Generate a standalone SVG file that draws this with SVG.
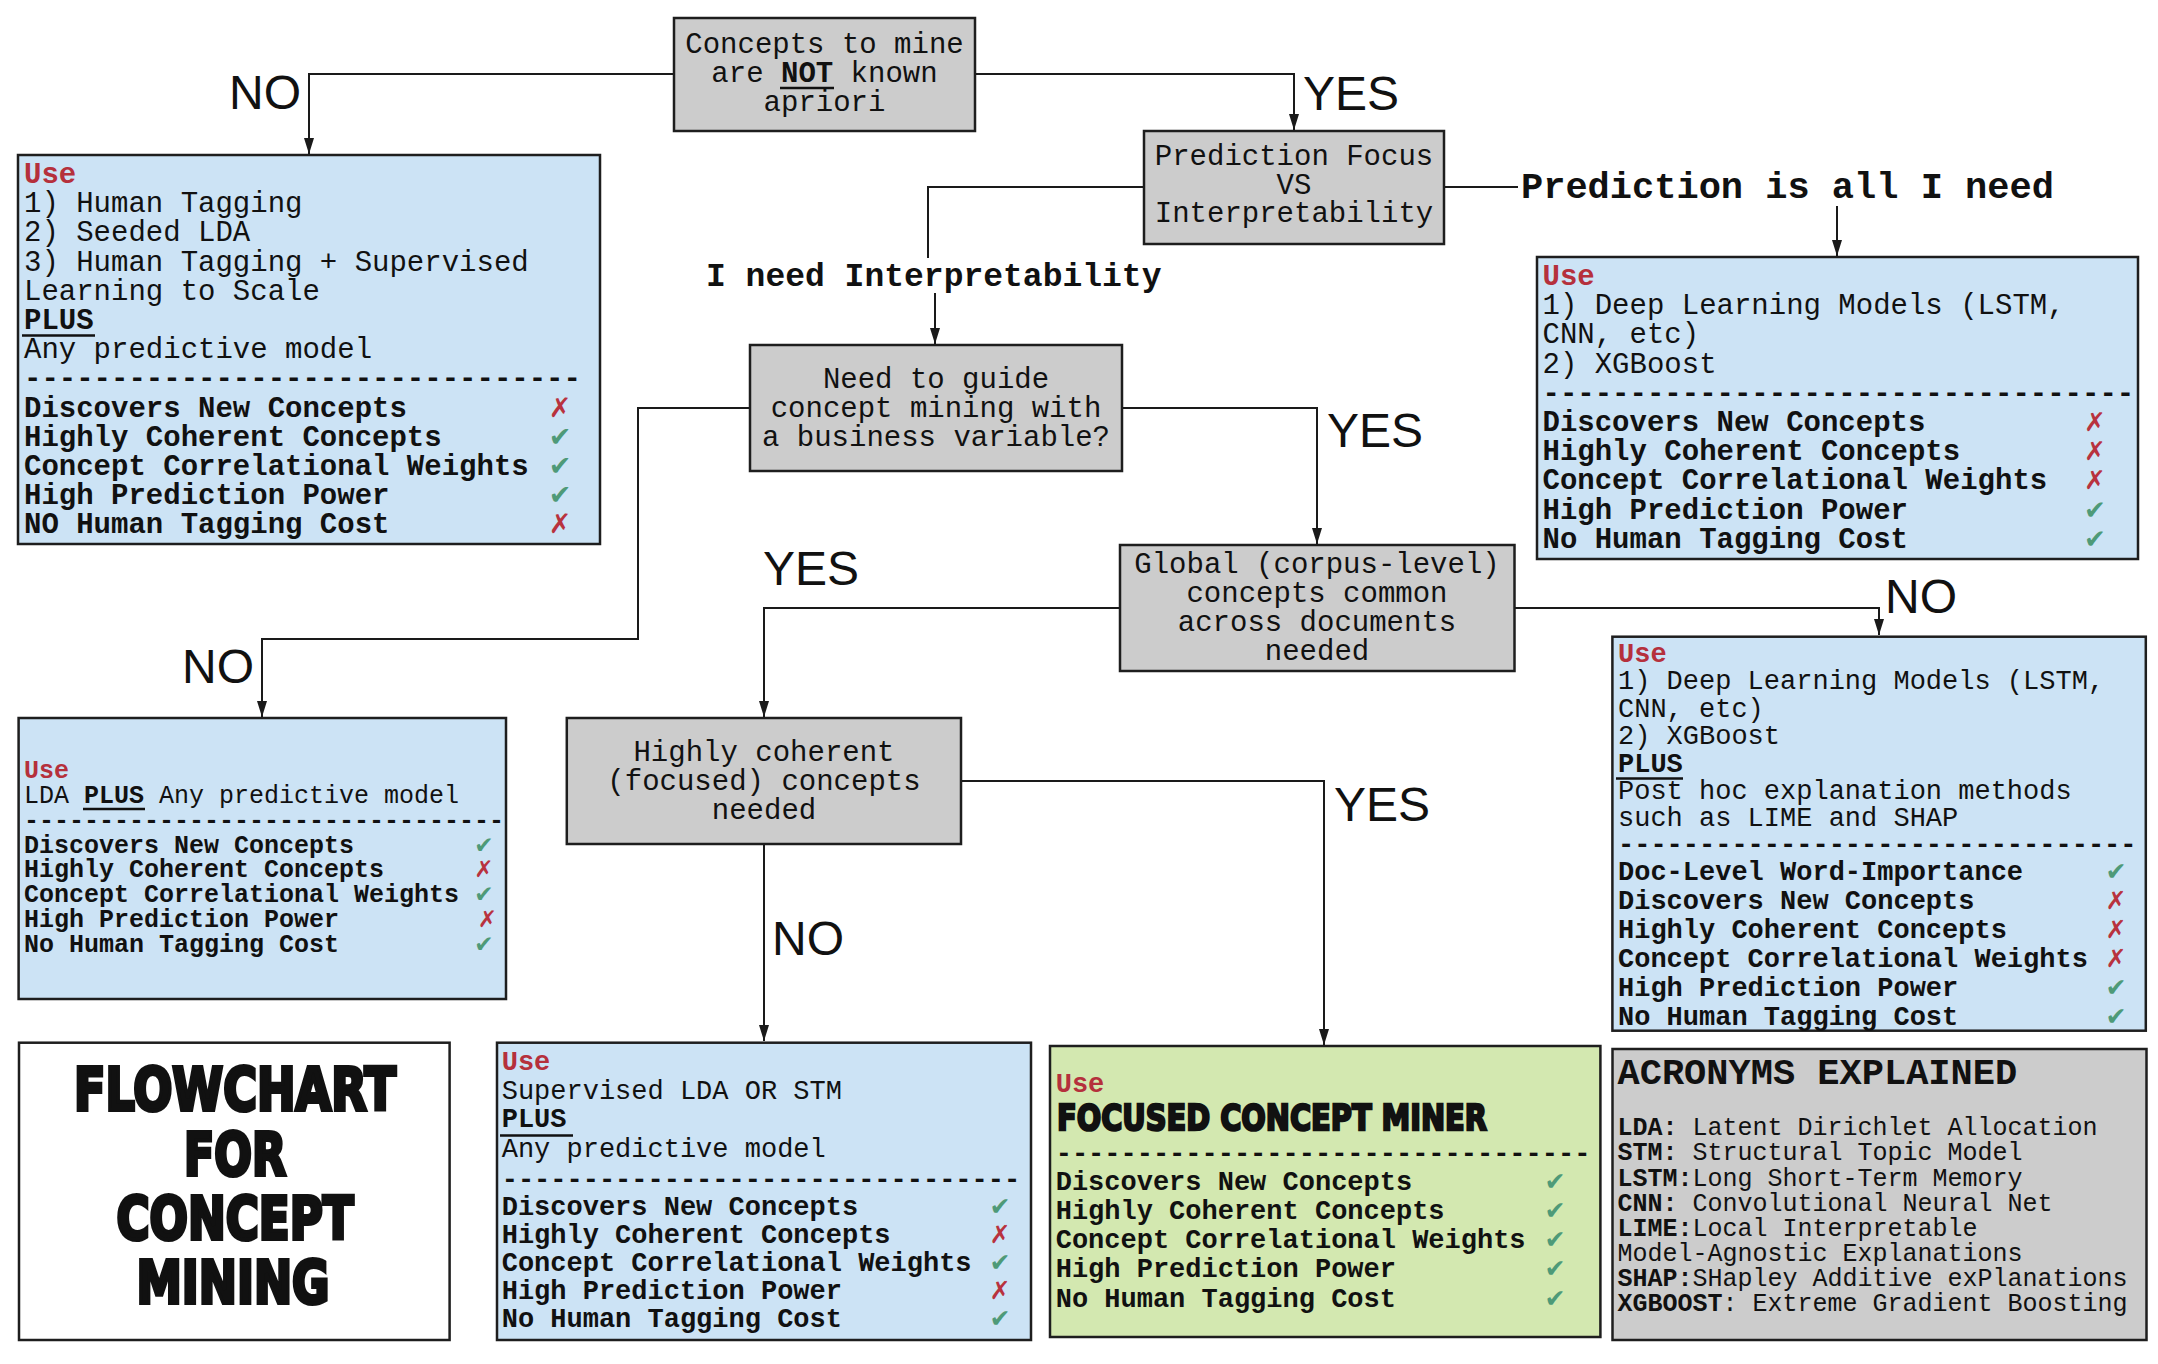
<svg xmlns="http://www.w3.org/2000/svg" width="2158" height="1364" viewBox="0 0 2158 1364">
<style>
.box{stroke:#1e1e1e;stroke-width:2.5}
.gray{fill:#cccccc}
.blue{fill:#cce3f5}
.green{fill:#d3e8b0}
.white{fill:#ffffff}
.mono{font-family:"Liberation Mono","DejaVu Sans Mono",monospace;fill:#111}
.f29{font-size:29px}
.f27{font-size:27px}
.f25{font-size:25px}
.b{font-weight:bold}
.c{text-anchor:middle}
.use{fill:#b5303c}
.lbl{font-family:"Liberation Sans",Arial,sans-serif;font-size:48px;fill:#111}
.ok{font-family:"DejaVu Sans",sans-serif;fill:#4e9a78;text-anchor:middle}
.bad{font-family:"DejaVu Sans",sans-serif;fill:#b8323e;text-anchor:middle}
.ul{stroke:#111;stroke-width:2.5}
.disp{font-family:"DejaVu Sans",sans-serif;font-weight:900;fill:#111;stroke:#111;stroke-linejoin:miter}
.conn{fill:none;stroke:#1a1a1a;stroke-width:2}
</style>
<defs>
<marker id="arr" markerUnits="userSpaceOnUse" markerWidth="16" markerHeight="10" refX="16" refY="5" orient="auto">
<path d="M0,0 L16,5 L0,10 z" fill="#1a1a1a"/>
</marker>
</defs>
<rect width="2158" height="1364" fill="#ffffff"/>

<g id="connectors">
<path class="conn" d="M674,74 H309 V154" marker-end="url(#arr)"/>
<path class="conn" d="M975,74 H1294 V130" marker-end="url(#arr)"/>
<path class="conn" d="M1144,187 H928 V258"/>
<path class="conn" d="M935,293 V344" marker-end="url(#arr)"/>
<path class="conn" d="M1444,187 H1518"/>
<path class="conn" d="M1837,206 V256" marker-end="url(#arr)"/>
<path class="conn" d="M750,408 H638 V639 H262 V717" marker-end="url(#arr)"/>
<path class="conn" d="M1122,408 H1317 V544" marker-end="url(#arr)"/>
<path class="conn" d="M1120,608 H764 V717" marker-end="url(#arr)"/>
<path class="conn" d="M1514,608 H1879 V635" marker-end="url(#arr)"/>
<path class="conn" d="M961,781 H1324 V1045" marker-end="url(#arr)"/>
<path class="conn" d="M764,844 V1041" marker-end="url(#arr)"/>
<text class="lbl" x="229" y="109">NO</text>
<text class="lbl" x="1303" y="110">YES</text>
<text class="mono b" style="font-size:33px" x="706" y="286">I need Interpretability</text>
<text class="mono b" style="font-size:37px" x="1521" y="198">Prediction is all I need</text>
<text class="lbl" x="182" y="683">NO</text>
<text class="lbl" x="1327" y="447">YES</text>
<text class="lbl" x="763" y="585">YES</text>
<text class="lbl" x="1885" y="613">NO</text>
<text class="lbl" x="1334" y="821">YES</text>
<text class="lbl" x="772" y="955">NO</text>
</g>

<g id="node-known">
<rect class="box gray" x="674" y="18" width="301" height="113"/>
<text class="mono f29 c" x="824.5" y="53">Concepts to mine</text>
<text class="mono f29 c" x="824.5" y="82">are <tspan class="b">NOT</tspan> known</text>
<line class="ul" x1="780" y1="88" x2="834" y2="88"/>
<text class="mono f29 c" x="824.5" y="111">apriori</text>
</g>

<g id="node-focus">
<rect class="box gray" x="1144" y="131" width="300" height="113"/>
<text class="mono f29 c" x="1294" y="165">Prediction Focus</text>
<text class="mono f29 c" x="1294" y="193.5">VS</text>
<text class="mono f29 c" x="1294" y="222">Interpretability</text>
</g>

<g id="node-human">
<rect class="box blue" x="18" y="155" width="582" height="389"/>
<text class="mono f29 b use" x="24" y="183">Use</text>
<text class="mono f29" x="24" y="212.2">1) Human Tagging</text>
<text class="mono f29" x="24" y="241.4">2) Seeded LDA</text>
<text class="mono f29" x="24" y="270.6">3) Human Tagging + Supervised</text>
<text class="mono f29" x="24" y="299.8">Learning to Scale</text>
<text class="mono f29 b" x="24" y="329">PLUS</text>
<line class="ul" x1="22" y1="335.5" x2="95" y2="335.5"/>
<text class="mono f29" x="24" y="358.2">Any predictive model</text>
<text class="mono f29 b" x="24" y="387.4">--------------------------------</text>
<text class="mono f29 b" x="24" y="416.6">Discovers New Concepts</text>
<text class="mono f29 b" x="24" y="445.8">Highly Coherent Concepts</text>
<text class="mono f29 b" x="24" y="475">Concept Correlational Weights</text>
<text class="mono f29 b" x="24" y="504.2">High Prediction Power</text>
<text class="mono f29 b" x="24" y="533.4">NO Human Tagging Cost</text>
<text class="bad" style="font-size:27px" x="560" y="416.6">✗</text>
<text class="ok" style="font-size:27px" x="560" y="445.8">✔</text>
<text class="ok" style="font-size:27px" x="560" y="475">✔</text>
<text class="ok" style="font-size:27px" x="560" y="504.2">✔</text>
<text class="bad" style="font-size:27px" x="560" y="533.4">✗</text>
</g>

<g id="node-deep">
<rect class="box blue" x="1537" y="257" width="601" height="302"/>
<text class="mono f29 b use" x="1542.5" y="285">Use</text>
<text class="mono f29" x="1542.5" y="314.2">1) Deep Learning Models (LSTM,</text>
<text class="mono f29" x="1542.5" y="343.4">CNN, etc)</text>
<text class="mono f29" x="1542.5" y="372.6">2) XGBoost</text>
<text class="mono f29 b" x="1542.5" y="401.8">----------------------------------</text>
<text class="mono f29 b" x="1542.5" y="431">Discovers New Concepts</text>
<text class="mono f29 b" x="1542.5" y="460.2">Highly Coherent Concepts</text>
<text class="mono f29 b" x="1542.5" y="489.4">Concept Correlational Weights</text>
<text class="mono f29 b" x="1542.5" y="518.6">High Prediction Power</text>
<text class="mono f29 b" x="1542.5" y="547.8">No Human Tagging Cost</text>
<text class="bad" style="font-size:26px" x="2095" y="431">✗</text>
<text class="bad" style="font-size:26px" x="2095" y="460.2">✗</text>
<text class="bad" style="font-size:26px" x="2095" y="489.4">✗</text>
<text class="ok" style="font-size:26px" x="2095" y="518.6">✔</text>
<text class="ok" style="font-size:26px" x="2095" y="547.8">✔</text>
</g>

<g id="node-guide">
<rect class="box gray" x="750" y="345" width="372" height="126"/>
<text class="mono f29 c" x="936" y="387.5">Need to guide</text>
<text class="mono f29 c" x="936" y="417">concept mining with</text>
<text class="mono f29 c" x="936" y="446">a business variable?</text>
</g>

<g id="node-lda">
<rect class="box blue" x="18.6" y="718" width="487.4" height="281"/>
<text class="mono f25 b use" x="24" y="778">Use</text>
<text class="mono f25" x="24" y="802.9">LDA <tspan class="b">PLUS</tspan> Any predictive model</text>
<line class="ul" x1="83" y1="809" x2="145" y2="809"/>
<text class="mono f25 b" x="24" y="827.7">--------------------------------</text>
<text class="mono f25 b" x="24" y="852.6">Discovers New Concepts</text>
<text class="mono f25 b" x="24" y="877.4">Highly Coherent Concepts</text>
<text class="mono f25 b" x="24" y="902.3">Concept Correlational Weights</text>
<text class="mono f25 b" x="24" y="927.1">High Prediction Power</text>
<text class="mono f25 b" x="24" y="952">No Human Tagging Cost</text>
<text class="ok" style="font-size:23px" x="484" y="852.6">✔</text>
<text class="bad" style="font-size:23px" x="484" y="877.4">✗</text>
<text class="ok" style="font-size:23px" x="484" y="902.3">✔</text>
<text class="bad" style="font-size:23px" x="487.5" y="927.1">✗</text>
<text class="ok" style="font-size:23px" x="484" y="952">✔</text>
</g>

<g id="node-global">
<rect class="box gray" x="1120" y="545" width="394.5" height="126"/>
<text class="mono f29 c" x="1317" y="573">Global (corpus-level)</text>
<text class="mono f29 c" x="1317" y="602">concepts common</text>
<text class="mono f29 c" x="1317" y="631">across documents</text>
<text class="mono f29 c" x="1317" y="660">needed</text>
</g>

<g id="node-posthoc">
<rect class="box blue" x="1612.4" y="636.7" width="533.4" height="394"/>
<text class="mono f27 b use" x="1618" y="661.7">Use</text>
<text class="mono f27" x="1618" y="689.4">1) Deep Learning Models (LSTM,</text>
<text class="mono f27" x="1618" y="716.8">CNN, etc)</text>
<text class="mono f27" x="1618" y="744.2">2) XGBoost</text>
<text class="mono f27 b" x="1618" y="771.6">PLUS</text>
<line class="ul" x1="1616" y1="778.5" x2="1683" y2="778.5"/>
<text class="mono f27" x="1618" y="799">Post hoc explanation methods</text>
<text class="mono f27" x="1618" y="826.4">such as LIME and SHAP</text>
<text class="mono f27 b" x="1618" y="853">--------------------------------</text>
<text class="mono f27 b" x="1618" y="880">Doc-Level Word-Importance</text>
<text class="mono f27 b" x="1618" y="909">Discovers New Concepts</text>
<text class="mono f27 b" x="1618" y="938">Highly Coherent Concepts</text>
<text class="mono f27 b" x="1618" y="967">Concept Correlational Weights</text>
<text class="mono f27 b" x="1618" y="996">High Prediction Power</text>
<text class="mono f27 b" x="1618" y="1025">No Human Tagging Cost</text>
<text class="ok" style="font-size:25px" x="2116" y="880">✔</text>
<text class="bad" style="font-size:25px" x="2116" y="909">✗</text>
<text class="bad" style="font-size:25px" x="2116" y="938">✗</text>
<text class="bad" style="font-size:25px" x="2116" y="967">✗</text>
<text class="ok" style="font-size:25px" x="2116" y="996">✔</text>
<text class="ok" style="font-size:25px" x="2116" y="1025">✔</text>
</g>

<g id="node-coherent">
<rect class="box gray" x="566.8" y="718" width="394.2" height="126"/>
<text class="mono f29 c" x="764" y="760.7">Highly coherent</text>
<text class="mono f29 c" x="764" y="790">(focused) concepts</text>
<text class="mono f29 c" x="764" y="818.6">needed</text>
</g>

<g id="node-title">
<rect class="box white" x="19" y="1042.7" width="430.6" height="297.3"/>
<text class="disp c" style="font-size:58px;stroke-width:4" x="235" y="1110" textLength="322" lengthAdjust="spacingAndGlyphs">FLOWCHART</text>
<text class="disp c" style="font-size:58px;stroke-width:4" x="235" y="1175" textLength="102" lengthAdjust="spacingAndGlyphs">FOR</text>
<text class="disp c" style="font-size:58px;stroke-width:4" x="235" y="1239" textLength="237" lengthAdjust="spacingAndGlyphs">CONCEPT</text>
<text class="disp c" style="font-size:58px;stroke-width:4" x="233" y="1303" textLength="193" lengthAdjust="spacingAndGlyphs">MINING</text>
</g>

<g id="node-slda">
<rect class="box blue" x="497" y="1042.7" width="534" height="297.3"/>
<text class="mono f27 b use" x="501.7" y="1070">Use</text>
<text class="mono f27" x="501.7" y="1099">Supervised LDA OR STM</text>
<text class="mono f27 b" x="501.7" y="1127">PLUS</text>
<line class="ul" x1="500" y1="1135.5" x2="573" y2="1135.5"/>
<text class="mono f27" x="501.7" y="1156.7">Any predictive model</text>
<text class="mono f27 b" x="501.7" y="1188">--------------------------------</text>
<text class="mono f27 b" x="501.7" y="1215">Discovers New Concepts</text>
<text class="mono f27 b" x="501.7" y="1243">Highly Coherent Concepts</text>
<text class="mono f27 b" x="501.7" y="1271">Concept Correlational Weights</text>
<text class="mono f27 b" x="501.7" y="1299">High Prediction Power</text>
<text class="mono f27 b" x="501.7" y="1327">No Human Tagging Cost</text>
<text class="ok" style="font-size:25px" x="1000" y="1215">✔</text>
<text class="bad" style="font-size:25px" x="1000" y="1243">✗</text>
<text class="ok" style="font-size:25px" x="1000" y="1271">✔</text>
<text class="bad" style="font-size:25px" x="1000" y="1299">✗</text>
<text class="ok" style="font-size:25px" x="1000" y="1327">✔</text>
</g>

<g id="node-fcm">
<rect class="box green" x="1050" y="1046" width="550.4" height="291"/>
<text class="mono f27 b use" x="1055.7" y="1091.7">Use</text>
<text class="disp" style="font-size:36px;stroke-width:2.5" x="1057" y="1130" textLength="430" lengthAdjust="spacingAndGlyphs">FOCUSED CONCEPT MINER</text>
<text class="mono f27 b" x="1055.7" y="1162">---------------------------------</text>
<text class="mono f27 b" x="1055.7" y="1190">Discovers New Concepts</text>
<text class="mono f27 b" x="1055.7" y="1219">Highly Coherent Concepts</text>
<text class="mono f27 b" x="1055.7" y="1248">Concept Correlational Weights</text>
<text class="mono f27 b" x="1055.7" y="1277">High Prediction Power</text>
<text class="mono f27 b" x="1055.7" y="1306.7">No Human Tagging Cost</text>
<text class="ok" style="font-size:25px" x="1555" y="1190">✔</text>
<text class="ok" style="font-size:25px" x="1555" y="1219">✔</text>
<text class="ok" style="font-size:25px" x="1555" y="1248">✔</text>
<text class="ok" style="font-size:25px" x="1555" y="1277">✔</text>
<text class="ok" style="font-size:25px" x="1555" y="1306.7">✔</text>
</g>

<g id="node-acronyms">
<rect class="box gray" x="1612.5" y="1049" width="534" height="291"/>
<text class="mono b" style="font-size:37px" x="1617.5" y="1084">ACRONYMS EXPLAINED</text>
<text class="mono f25" x="1617.5" y="1135"><tspan class="b">LDA:</tspan> Latent Dirichlet Allocation</text>
<text class="mono f25" x="1617.5" y="1160"><tspan class="b">STM:</tspan> Structural Topic Model</text>
<text class="mono f25" x="1617.5" y="1185.7"><tspan class="b">LSTM:</tspan>Long Short-Term Memory</text>
<text class="mono f25" x="1617.5" y="1210.7"><tspan class="b">CNN:</tspan> Convolutional Neural Net</text>
<text class="mono f25" x="1617.5" y="1236"><tspan class="b">LIME:</tspan>Local Interpretable</text>
<text class="mono f25" x="1617.5" y="1260.7">Model-Agnostic Explanations</text>
<text class="mono f25" x="1617.5" y="1286"><tspan class="b">SHAP:</tspan>SHapley Additive exPlanations</text>
<text class="mono f25" x="1617.5" y="1310.7"><tspan class="b">XGBOOST</tspan>: Extreme Gradient Boosting</text>
</g>
</svg>
